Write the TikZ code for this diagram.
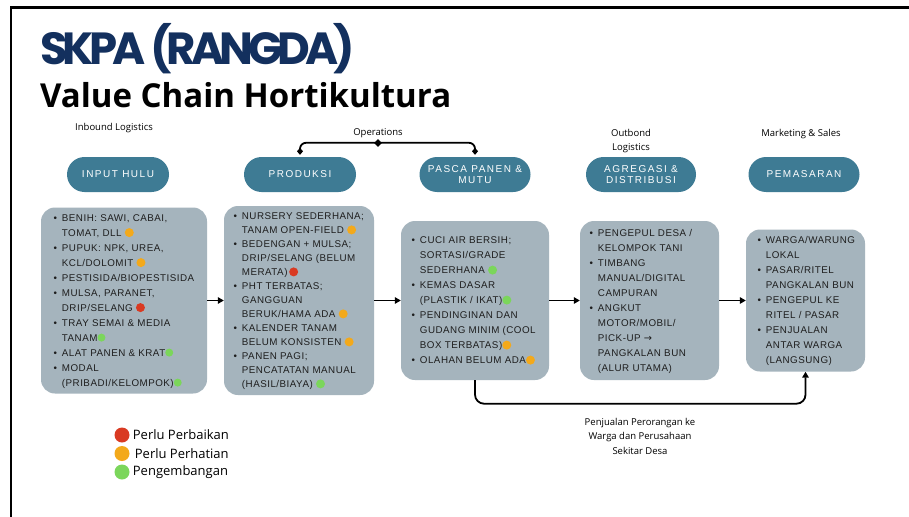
\documentclass[tikz,border=0pt]{standalone}
\usepackage{fontspec}
\setmainfont{Open Sans}
\newfontfamily\boxfont{Liberation Sans}[LetterSpace=5]
\newfontfamily\pillfont{Liberation Sans}[LetterSpace=15]
\newfontfamily\titlefont{Poppins}[LetterSpace=-11]
\newfontfamily\symfont{DejaVu Sans}
\usetikzlibrary{arrows.meta,shapes.geometric}
\definecolor{navy}{HTML}{13305E}
\definecolor{pillc}{HTML}{3E7B94}
\definecolor{boxg}{HTML}{A5B4BD}
\definecolor{dred}{HTML}{D93A22}
\definecolor{dorg}{HTML}{F3A91B}
\definecolor{dgrn}{HTML}{7BD65B}
\definecolor{txt}{HTML}{1E1E1E}
\newcommand\dotc[2][4.5pt]{\tikz[baseline=-3.4pt]\fill[#2] (0,0) circle (#1);}
\newcommand\DO{\dotc{dorg}}
\newcommand\DR{\dotc{dred}}
\newcommand\DG{\dotc[4pt]{dgrn}}
\tikzset{
  pillst/.style={rectangle, rounded corners=17.5pt, fill=pillc, text=white, minimum height=35pt, inner sep=0pt, align=center, font=\pillfont\fontsize{10}{11.5}\selectfont},
  boxst/.style={rectangle, rounded corners=14pt, fill=boxg, inner sep=0pt},
  boxtext/.style={anchor=west, inner sep=0pt, text=txt, font=\boxfont\fontsize{9.8}{15}\selectfont},
  hlabel/.style={inner sep=0pt, align=center, font=\fontsize{9.5}{14}\selectfont},
  arr/.style={line width=1.8pt, -{Triangle[length=6pt,width=6.5pt]}},
  opsl/.style={line width=1.8pt, {Diamond[length=7pt,width=6pt]}-{Diamond[length=7pt,width=6pt]}, rounded corners=6pt, shorten <=2pt, shorten >=2pt},
  legdot/.style={circle, inner sep=0pt, minimum size=15pt},
  legtext/.style={anchor=west, inner sep=0pt, font=\fontsize{13}{15}\selectfont}
}
\begin{document}
\begin{tikzpicture}[x=1pt,y=-1pt]
\useasboundingbox (0,0) rectangle (909,516);
\fill[white] (0,0) rectangle (909,516);
\draw[line width=2.6pt, line join=miter] (11,520) -- (11,7.5) -- (915,7.5);

% titles
\node[anchor=base west, inner sep=0pt, text=navy, font=\titlefont\bfseries\fontsize{45}{45}\selectfont] (title1) at (40,65) {SKPA (RANGDA)};
\node[anchor=base west, inner sep=0pt, text=black, font=\bfseries\fontsize{33}{34}\selectfont] (title2) at (40,107.5) {Value Chain Hortikultura};

% header labels
\node[hlabel] (lin) at (114,128) {Inbound Logistics};
\node[hlabel] (lops) at (378,133) {Operations};
\node[hlabel] (lout) at (631,141) {Outbond\\Logistics};
\node[hlabel] (lmkt) at (801,134) {Marketing \& Sales};

% pills
\node[pillst, minimum width=102pt] (p1) at (118,174.5) {INPUT HULU};
\node[pillst, minimum width=112pt] (p2) at (300,174.5) {PRODUKSI};
\node[pillst, minimum width=111pt] (p3) at (475,174.5) {PASCA PANEN \&\\MUTU};
\node[pillst, minimum width=110pt] (p4) at (641,174.5) {AGREGASI \&\\DISTRIBUSI};
\node[pillst, minimum width=111pt] (p5) at (804,174.5) {PEMASARAN};

% operations bracket
\draw[opsl] (p2.north) -- ++(0,-14) -| (p3.north);
\node[diamond, fill=black, inner sep=0pt, minimum width=8pt, minimum height=8pt] (opsmid) at (378,143) {};

% boxes
\node[boxst, minimum width=166pt, minimum height=186pt] (b1) at (124,300.5) {};
\node[boxst, minimum width=150pt, minimum height=189pt] (b2) at (299,300.5) {};
\node[boxst, minimum width=148pt, minimum height=159pt] (b3) at (475,300.5) {};
\node[boxst, minimum width=139pt, minimum height=159pt] (b4) at (649.5,300.5) {};
\node[boxst, minimum width=119pt, minimum height=142pt] (b5) at (805.5,300.5) {};

\node[boxtext] (t1) at ([xshift=12.5pt]b1.west) {\begin{tabular}{@{}c@{\hspace{5pt}}l@{}}
\textbullet & BENIH: SAWI, CABAI,\\
 & TOMAT, DLL \DO\\
\textbullet & PUPUK: NPK, UREA,\\
 & KCL/DOLOMIT \DO\\
\textbullet & PESTISIDA/BIOPESTISIDA\\
\textbullet & MULSA, PARANET,\\
 & DRIP/SELANG \DR\\
\textbullet & TRAY SEMAI \& MEDIA\\
 & TANAM\DG\\
\textbullet & ALAT PANEN \& KRAT\DG\\
\textbullet & MODAL\\
 & (PRIBADI/KELOMPOK)\DG
\end{tabular}};

\node[boxtext, font=\boxfont\fontsize{9.8}{14}\selectfont] (t2) at ([xshift=9.5pt]b2.west) {\begin{tabular}{@{}c@{\hspace{5pt}}l@{}}
\textbullet & NURSERY SEDERHANA;\\
 & TANAM OPEN-FIELD \DO\\
\textbullet & BEDENGAN + MULSA;\\
 & DRIP/SELANG (BELUM\\
 & MERATA)\,\DR\\
\textbullet & PHT TERBATAS;\\
 & GANGGUAN\\
 & BERUK/HAMA ADA \DO\\
\textbullet & KALENDER TANAM\\
 & BELUM KONSISTEN \DO\\
\textbullet & PANEN PAGI;\\
 & PENCATATAN MANUAL\\
 & (HASIL/BIAYA) \dotc{dgrn}
\end{tabular}};

\node[boxtext] (t3) at ([xshift=10.5pt]b3.west) {\begin{tabular}{@{}c@{\hspace{5pt}}l@{}}
\textbullet & CUCI AIR BERSIH;\\
 & SORTASI/GRADE\\
 & SEDERHANA \dotc{dgrn}\\
\textbullet & KEMAS DASAR\\
 & (PLASTIK / IKAT)\dotc{dgrn}\\
\textbullet & PENDINGINAN DAN\\
 & GUDANG MINIM (COOL\\
 & BOX TERBATAS)\DO\\
\textbullet & OLAHAN BELUM ADA\DO
\end{tabular}};

\node[boxtext] (t4) at ([xshift=9.5pt]b4.west) {\begin{tabular}{@{}c@{\hspace{5pt}}l@{}}
\textbullet & PENGEPUL DESA /\\
 & KELOMPOK TANI\\
\textbullet & TIMBANG\\
 & MANUAL/DIGITAL\\
 & CAMPURAN\\
\textbullet & ANGKUT\\
 & MOTOR/MOBIL/\\
 & PICK-UP {\symfont\addfontfeature{LetterSpace=0}→}\\
 & PANGKALAN BUN\\
 & (ALUR UTAMA)
\end{tabular}};

\node[boxtext] (t5) at ([xshift=11.5pt]b5.west) {\begin{tabular}{@{}c@{\hspace{5pt}}l@{}}
\textbullet & WARGA/WARUNG\\
 & LOKAL\\
\textbullet & PASAR/RITEL\\
 & PANGKALAN BUN\\
\textbullet & PENGEPUL KE\\
 & RITEL / PASAR\\
\textbullet & PENJUALAN\\
 & ANTAR WARGA\\
 & (LANGSUNG)
\end{tabular}};

% flow arrows
\draw[arr] (b1.east) -- (b2.west);
\draw[arr] (b2.east) -- (b3.west);
\draw[arr] (b3.east) -- (b4.west);
\draw[arr] (b4.east) -- (b5.west);
\draw[arr, rounded corners=9pt] (b3.south) -- ++(0,23.5) -| (b5.south);

\node[hlabel, font=\fontsize{9.5}{14.5}\selectfont] (ldirect) at (640,436) {Penjualan Perorangan ke\\Warga dan Perusahaan\\Sekitar Desa};

% legend
\node[legdot, fill=dred] (lr) at (122,435) {};
\node[legdot, fill=dorg] (lo) at (122,453.5) {};
\node[legdot, fill=dgrn] (lg) at (122,472) {};
\node[legtext] (lrt) at ([xshift=3pt]lr.east) {Perlu Perbaikan};
\node[legtext] (lot) at ([xshift=5pt]lo.east) {Perlu Perhatian};
\node[legtext] (lgt) at ([xshift=3pt]lg.east) {Pengembangan};
\end{tikzpicture}
\end{document}
